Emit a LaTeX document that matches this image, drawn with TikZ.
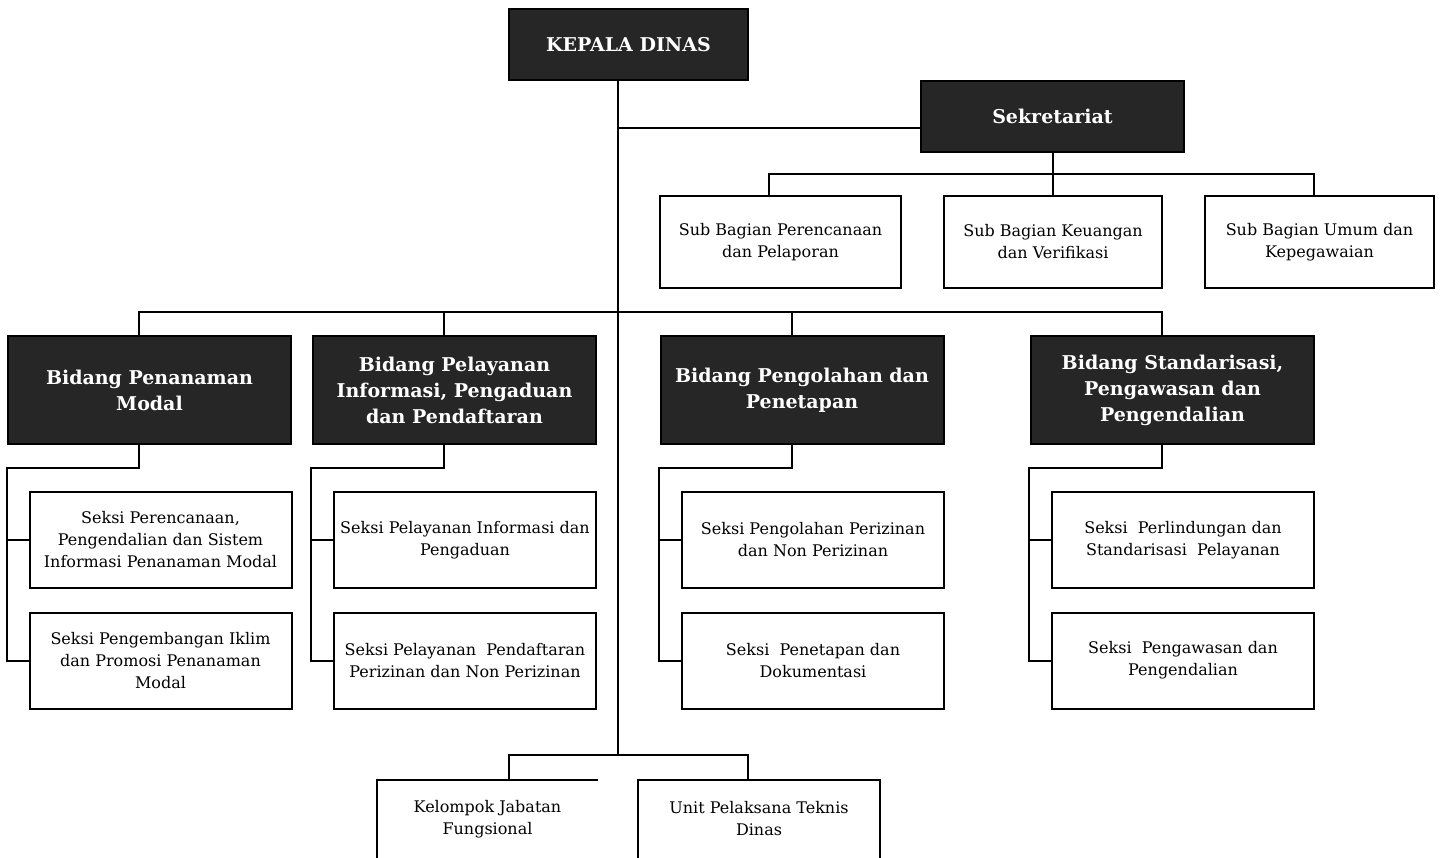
\documentclass[tikz,border=0pt]{standalone}
\usepackage{fontspec}
\setmainfont{DejaVu Serif}
\tikzset{
  pimpinan/.style={draw=black, line width=2pt, fill=black!85, text=white,
    font=\bfseries\fontsize{19}{26}\selectfont, align=center, inner sep=0pt},
  seksi/.style={draw=black, line width=2pt, fill=white,
    font=\fontsize{16}{22}\selectfont, align=center, inner sep=0pt},
  garis/.style={line width=2pt},
}
\begin{document}
\begin{tikzpicture}[x=1pt,y=-1pt]
  \useasboundingbox (0,0) rectangle (1440,858);
  \clip (0,0) rectangle (1440,858);
  % pimpinan dan sekretariat
  \node[pimpinan, minimum width=239, minimum height=71] (kd) at (628.5,44.5) {KEPALA DINAS};
  \node[pimpinan, minimum width=263, minimum height=71] (sek) at (1052.5,116.5) {Sekretariat};
  \node[seksi, minimum width=241, minimum height=92] (sb1) at (780.5,242) {Sub Bagian Perencanaan\\dan Pelaporan};
  \node[seksi, minimum width=218, minimum height=92] (sb2) at (1053,242) {Sub Bagian Keuangan\\dan Verifikasi};
  \node[seksi, minimum width=229, minimum height=92] (sb3) at (1319.5,242) {Sub Bagian Umum dan\\Kepegawaian};
  % bidang
  \foreach \n/\x/\t in {bpm/149.5/{Bidang Penanaman\\Modal},
                        bpi/454.5/{Bidang Pelayanan\\Informasi, Pengaduan\\dan Pendaftaran},
                        bpp/802/{Bidang Pengolahan dan\\Penetapan},
                        bsp/1172.5/{Bidang Standarisasi,\\Pengawasan dan\\Pengendalian}} {
    \node[pimpinan, minimum width=283, minimum height=108] (\n) at (\x,390) {\t};
  }
  % seksi
  \foreach \n/\x/\y/\t in {spm1/160.5/540/{Seksi Perencanaan,\\Pengendalian dan Sistem\\Informasi Penanaman Modal},
                           spm2/160.5/660.5/{Seksi Pengembangan Iklim\\dan Promosi Penanaman\\Modal},
                           spi1/465/540/{Seksi Pelayanan Informasi dan\\Pengaduan},
                           spi2/465/660.5/{Seksi Pelayanan\ \ Pendaftaran\\Perizinan dan Non Perizinan},
                           spp1/813/540/{Seksi Pengolahan Perizinan\\dan Non Perizinan},
                           spp2/813/660.5/{Seksi\ \ Penetapan dan\\Dokumentasi},
                           ssp1/1183/540/{Seksi\ \ Perlindungan dan\\Standarisasi\ \ Pelayanan},
                           ssp2/1183/660.5/{Seksi\ \ Pengawasan dan\\Pengendalian}} {
    \node[seksi, minimum width=262, minimum height=96] (\n) at (\x,\y) {\t};
  }
  % kelompok jabatan fungsional dan UPT
  \node[seksi, draw=none, fill=none, minimum width=219, minimum height=76] (kjf) at (487.5,819) {Kelompok Jabatan\\Fungsional};
  \node[seksi, draw=none, fill=none, minimum width=240, minimum height=76] (upt) at (759,819) {Unit Pelaksana Teknis\\Dinas};
  \draw[garis] ([yshift=-40]kjf.south west) |- (kjf.north east);
  \draw[garis] ([yshift=-40]upt.south west) |- (upt.north east) -- ([yshift=-40]upt.south east);
  % garis
  \coordinate (jsek) at (618,128);
  \coordinate (jsub) at (1052.5,174);
  \coordinate (jbid) at (618,312);
  \coordinate (bawah) at (618,755);
  \draw[garis] ([xshift=-10.5]kd.south) -- (bawah);
  \draw[garis] (jsek) -- (jsek -| sek.west);
  \draw[garis] (sek.south) -- (jsub);
  \draw[garis] ([xshift=-11.5]sb1.north) |- (jsub) -| ([xshift=-5.5]sb3.north);
  \draw[garis] (jsub) -- (jsub |- sb2.north);
  \draw[garis] ([xshift=-10.5]bpm.north) |- (jbid) -| ([xshift=-10.5]bsp.north);
  \draw[garis] ([xshift=-10.5]bpi.north) -- ([xshift=-10.5]bpi.north |- jbid);
  \draw[garis] ([xshift=-10]bpp.north) -- ([xshift=-10]bpp.north |- jbid);
  \foreach \b/\s/\t in {bpm/spm1/spm2, bpi/spi1/spi2, bpp/spp1/spp2, bsp/ssp1/ssp2} {
    \draw[garis] ([xshift=-10.5]\b.south) -- ++(0,23) -| ([xshift=-22]\t.west) -- (\t.west);
    \draw[garis] (\s.west) -- ++(-22,0);
  }
  \draw[garis] ([xshift=21.5]kjf.north) |- (bawah) -| ([xshift=-11]upt.north);
\end{tikzpicture}
\end{document}
